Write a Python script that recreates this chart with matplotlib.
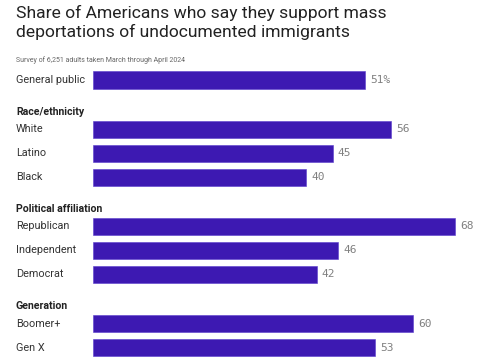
import matplotlib.pyplot as plt

title = "Share of Americans who say they support mass\ndeportations of undocumented immigrants"
subtitle = "Survey of 6,251 adults taken March through April 2024"

groups = [None, "Race/ethnicity", "Political affiliation", "Generation"]
labels = [["General public"],
          ["White", "Latino", "Black"],
          ["Republican", "Independent", "Democrat"],
          ["Boomer+", "Gen X"]]
values = [[51], [56, 45, 40], [68, 46, 42], [60, 53]]

bar_color = "#3d19b2"
text_color = "#333333"

fig = plt.figure(figsize=(4.85, 3.6), dpi=100)
fig.patch.set_facecolor("white")
# axes fill the figure; 1 y unit = one 24px row, x starts at 93px
ax = fig.add_axes([93 / 485, 0, 1 - 93 / 485, 1])
px = 5.33  # pixels per percentage point
ax.set_xlim(0, (485 - 93) / px)
ax.set_ylim((360 - 80) / 24, -80 / 24)
ax.axis("off")

pos = 0.0
for gi, (g, labs, vals) in enumerate(zip(groups, labels, values)):
    if gi > 0:
        pos += 1.05
    if g:
        ax.text(-93 / px + 16 / px, pos - 0.72, g, fontsize=7.6, fontweight="bold",
                color="#222222", va="center", ha="left", family="Roboto")
    for lab, v in zip(labs, vals):
        ax.barh(pos, v, height=0.71, color=bar_color, edgecolor="#5a3ccc", linewidth=0.4)
        ax.text(-93 / px + 16 / px, pos, lab, fontsize=7.8, color=text_color,
                va="center", ha="left", family="Roboto")
        txt = f"{v}%" if (gi == 0) else f"{v}"
        ax.text(v + 5 / px, pos, txt, fontsize=8, color="#808080",
                va="center", ha="left", family="DejaVu Sans Mono")
        pos += 1

fig.text(16 / 485, 1 - 5 / 360, title, fontsize=12.6, color="#222222",
         va="top", ha="left", family="Roboto", linespacing=1.25)
fig.text(16 / 485, 1 - 60 / 360, subtitle, fontsize=5, color="#666666",
         va="center", ha="left", family="Roboto")

fig.savefig("out.png", dpi=100)
